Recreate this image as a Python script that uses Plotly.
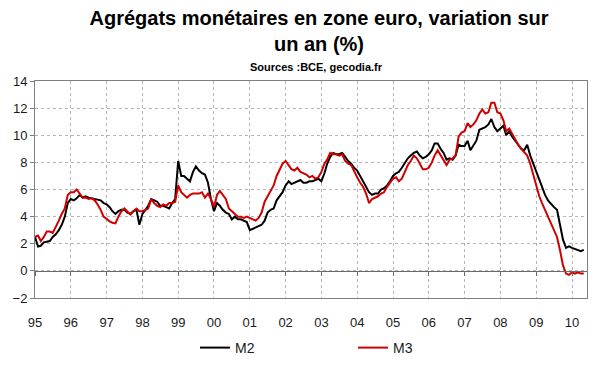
import pandas as pd
import plotly.graph_objects as go

# Monthly annual growth rates (%), Jan 1995 - May 2010
m2 = [
    2.5, 1.8, 1.85, 2.1, 2.15, 2.2, 2.5, 2.7, 3.0, 3.4, 4.0, 5.0,        # 1995
    5.3, 5.2, 5.35, 5.6, 5.4, 5.5, 5.4, 5.35, 5.3, 5.3, 5.2, 5.0,        # 1996
    4.9, 4.7, 4.4, 4.2, 4.4, 4.5, 4.5, 4.3, 4.2, 4.4, 4.5, 3.4,          # 1997
    4.2, 4.5, 4.8, 5.3, 5.2, 5.1, 4.8, 4.8, 4.7, 4.6, 5.0, 5.3,          # 1998
    8.1, 7.0, 7.0, 6.8, 6.6, 7.3, 7.7, 7.4, 7.2, 7.1, 6.5, 5.3,          # 1999
    4.4, 5.0, 4.8, 4.5, 4.3, 4.2, 3.8, 4.0, 3.8, 3.8, 3.7, 3.6,          # 2000
    3.0, 3.1, 3.2, 3.3, 3.4, 3.7, 4.3, 4.5, 4.6, 5.2, 5.5, 5.8,          # 2001
    6.3, 6.6, 6.4, 6.5, 6.6, 6.7, 6.5, 6.5, 6.6, 6.6, 6.7, 6.8,          # 2002
    6.6, 7.2, 7.9, 8.4, 8.7, 8.6, 8.6, 8.7, 8.4, 8.1, 7.9, 7.6,          # 2003
    7.4, 7.0, 6.7, 6.3, 5.8, 5.6, 5.7, 5.7, 6.0, 6.1, 6.3, 6.6,          # 2004
    7.0, 7.2, 7.3, 7.6, 7.9, 8.3, 8.5, 8.7, 8.8, 8.5, 8.3, 8.4,          # 2005
    8.6, 8.9, 9.4, 9.4, 9.0, 8.7, 8.2, 8.3, 8.2, 8.5, 9.3, 9.2,          # 2006
    9.2, 9.6, 8.9, 9.3, 9.6, 10.4, 10.5, 10.6, 10.8, 11.2, 10.6, 10.3,   # 2007
    10.5, 10.7, 10.0, 10.3, 9.9, 9.6, 9.3, 9.0, 8.9, 9.3, 8.5, 7.9,      # 2008
    7.3, 6.7, 6.2, 5.6, 5.2, 4.9, 4.7, 4.5, 3.5, 2.3, 1.7, 1.8,          # 2009
    1.7, 1.6, 1.5, 1.45, 1.55,                                           # 2010
]
m3 = [
    2.5, 2.6, 2.2, 2.5, 2.9, 2.9, 2.8, 3.2, 3.7, 4.2, 4.6, 5.6,          # 1995
    5.8, 5.8, 6.0, 5.7, 5.4, 5.4, 5.3, 5.35, 5.2, 4.9, 4.5, 4.0,         # 1996
    3.8, 3.65, 3.55, 3.5, 4.0, 4.4, 4.6, 4.4, 4.15, 4.4, 4.6, 4.4,       # 1997
    4.4, 4.5, 4.6, 5.3, 5.0, 4.8, 4.7, 4.9, 4.8, 5.0, 5.0, 5.1,          # 1998
    6.3, 5.8, 5.6, 5.4, 5.6, 5.7, 5.7, 5.7, 5.8, 5.4, 5.7, 5.3,          # 1999
    4.7, 5.6, 5.9, 5.6, 5.3, 4.6, 4.4, 4.2, 4.0, 4.0, 3.9, 4.0,          # 2000
    3.9, 3.8, 3.7, 3.9, 4.3, 5.1, 5.5, 5.8, 6.3, 7.0, 7.5, 7.9,          # 2001
    8.1, 7.8, 7.5, 7.4, 7.6, 7.3, 7.2, 7.1, 6.9, 7.0, 6.8, 6.9,          # 2002
    7.3, 7.9, 8.2, 8.7, 8.6, 8.6, 8.5, 8.6, 8.1, 7.9, 7.8, 7.3,          # 2003
    6.9, 6.5, 6.2, 5.7, 5.0, 5.3, 5.4, 5.5, 5.7, 5.8, 6.2, 6.5,          # 2004
    6.8, 6.9, 6.6, 6.8, 7.3, 7.8, 8.1, 8.5, 8.3, 7.9, 7.5, 7.5,          # 2005
    7.6, 8.0, 8.5, 8.9, 8.5, 8.1, 7.8, 8.2, 8.3, 8.5, 9.9, 10.2,         # 2006
    10.3, 10.9, 10.6, 10.8, 11.1, 11.6, 11.9, 11.6, 11.7, 12.4, 12.4, 11.7,  # 2007
    11.6, 11.1, 10.3, 10.5, 10.1, 9.6, 9.3, 9.0, 8.7, 8.5, 7.9, 7.1,     # 2008
    6.2, 5.5, 5.0, 4.5, 4.0, 3.5, 3.0, 2.5, 1.5, 0.4, -0.2, -0.3,        # 2009
    -0.1, -0.2, -0.1, -0.2, -0.2,                                        # 2010
]
start_month = "1995-01-01"
year_ticks = [str(y) for y in range(1995, 2011)]
year_labels = ["95", "96", "97", "98", "99", "00", "01", "02", "03",
               "04", "05", "06", "07", "08", "09", "10"]

dates = pd.date_range(start_month, periods=len(m2), freq="MS")
tickvals = [f"{y}-01-01" for y in year_ticks]
xrange = ["1995-01-01", "2010-06-03"]

FONT = "Liberation Sans, Arial, sans-serif"
GRID = "#b4b4b4"
AXIS = "#7f7f7f"

fig = go.Figure()
fig.add_trace(go.Scatter(x=dates, y=m2, name="M2", mode="lines",
                         line=dict(color="#000000", width=2)))
fig.add_trace(go.Scatter(x=dates, y=m3, name="M3", mode="lines",
                         line=dict(color="#d00000", width=2)))
# helper trace so the zero-line tick axis is drawn
fig.add_trace(go.Scatter(x=[dates[0]], y=[None], xaxis="x2", mode="lines",
                         showlegend=False, hoverinfo="skip"))

fig.update_layout(
    width=600, height=372,
    margin=dict(l=35, r=13, t=81, b=74, autoexpand=False),
    paper_bgcolor="white", plot_bgcolor="white",
    font=dict(family=FONT, size=13, color="#1a1a1a"),
    title=dict(text="<b>Agrégats monétaires en zone euro, variation sur<br>un an (%)</b>",
               x=319 / 600, xanchor="center", xref="container",
               y=1 - 25 / 372, yanchor="middle", yref="container",
               font=dict(family=FONT, size=20, color="#000000")),
    xaxis=dict(type="date", range=xrange, tickvals=tickvals, ticktext=year_labels,
               showgrid=True, gridcolor=GRID, griddash="dot", gridwidth=1,
               showline=True, linecolor=AXIS, linewidth=1, mirror=True,
               ticks="outside", ticklen=12, tickcolor="rgba(0,0,0,0)",
               zeroline=False, tickfont=dict(size=13)),
    xaxis2=dict(type="date", range=xrange, tickvals=tickvals, overlaying="x",
                anchor="free", position=2 / 16, showticklabels=False,
                showgrid=False, showline=True, linecolor="#6a6a6a", linewidth=1,
                ticks="outside", ticklen=4, tickcolor="#6a6a6a", zeroline=False),
    yaxis=dict(range=[-2, 14], dtick=2, tick0=0,
               showgrid=True, gridcolor=GRID, griddash="dot", gridwidth=1,
               showline=True, linecolor=AXIS, linewidth=1, mirror=True,
               ticks="outside", ticklen=4, tickcolor=AXIS,
               zeroline=False, tickfont=dict(size=13)),
    legend=dict(orientation="h", x=(195 - 35) / 552, xanchor="left",
                y=(298 - 348) / 217, yanchor="middle",
                entrywidth=113, entrywidthmode="pixels", itemwidth=30,
                font=dict(size=14, color="#1a1a1a"), bgcolor="rgba(0,0,0,0)"),
    annotations=[dict(text="<b>Sources :BCE, gecodia.fr</b>", xref="paper", yref="paper",
                      x=(316 - 35) / 552, y=(298 - 67) / 217,
                      xanchor="center", yanchor="middle", showarrow=False,
                      font=dict(family=FONT, size=11, color="#000000"))],
    showlegend=True,
)

fig.write_html("out.html", config={"displayModeBar": False},
               post_script="document.body.style.margin='0';document.body.style.padding='0';")
